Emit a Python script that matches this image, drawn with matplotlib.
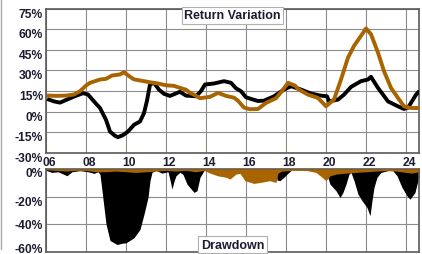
import matplotlib
matplotlib.use("Agg")
import matplotlib.pyplot as plt
from matplotlib.transforms import ScaledTranslation
from matplotlib.lines import Line2D

# ---- data ----
fund_ret_x = [2006.15, 2006.4, 2006.7, 2007.0, 2007.4, 2007.85, 2008.1, 2008.4, 2008.7, 2009.0,
              2009.2, 2009.45, 2009.6, 2009.85, 2010.1, 2010.4, 2010.7, 2010.9, 2011.05, 2011.2,
              2011.4, 2011.65, 2011.9, 2012.2, 2012.7, 2013.0, 2013.5, 2013.75, 2013.95, 2014.4,
              2014.9, 2015.25, 2015.5, 2015.75, 2016.0, 2016.25, 2016.6, 2016.9, 2017.4, 2017.9,
              2018.25, 2018.75, 2019.25, 2019.7, 2020.05, 2020.15, 2020.6, 2020.9, 2021.25, 2021.75,
              2022.1, 2022.25, 2022.35, 2022.6, 2023.1, 2023.6, 2023.9, 2024.1, 2024.25, 2024.5, 2024.6]
fund_ret = [8.8, 7.5, 6.6, 8.5, 11.0, 13.5, 12.5, 7.5, 2.7, -5.9,
            -14.4, -17.5, -18.5, -17.0, -14.4, -9.5, -7.1, -1.0, 8.0, 19.8,
            21.0, 16.0, 13.0, 11.5, 14.5, 11.7, 11.2, 15.0, 19.8, 20.5,
            22.2, 21.0, 17.0, 14.9, 10.5, 9.3, 7.8, 8.0, 11.2, 16.1,
            18.5, 16.1, 13.2, 11.8, 11.2, 7.5, 8.8, 12.4, 18.0, 22.2,
            23.4, 25.4, 23.0, 17.3, 7.5, 3.9, 2.0, 3.0, 6.4, 12.4, 14.0]

bench_ret_x = [2006.15, 2006.5, 2007.0, 2007.4, 2007.7, 2008.0, 2008.2, 2008.7, 2009.0, 2009.3,
               2009.7, 2009.9, 2010.2, 2010.4, 2010.7, 2011.2, 2011.6, 2012.0, 2012.4, 2012.7,
               2013.0, 2013.2, 2013.4, 2013.7, 2014.2, 2014.6, 2015.0, 2015.4, 2015.6, 2015.9,
               2016.2, 2016.6, 2017.0, 2017.5, 2017.8, 2018.1, 2018.45, 2018.6, 2019.1, 2019.6,
               2020.0, 2020.4, 2020.75, 2021.1, 2021.4, 2021.75, 2022.0, 2022.25, 2022.6, 2022.9,
               2023.25, 2023.6, 2023.9, 2024.25, 2024.6]
bench_ret = [11.7, 11.5, 11.7, 12.5, 14.9, 19.0, 21.0, 23.4, 23.9, 26.3,
             27.1, 28.7, 25.4, 23.5, 22.7, 21.4, 20.5, 19.2, 18.8, 17.3,
             16.0, 13.7, 12.4, 9.8, 10.8, 13.7, 11.5, 10.2, 8.0, 3.0,
             1.8, 2.0, 6.4, 9.8, 15.0, 21.0, 19.0, 16.5, 12.4, 10.0,
             4.0, 8.8, 23.4, 39.3, 47.8, 55.1, 60.5, 56.3, 42.9, 29.5,
             17.3, 10.0, 3.9, 2.7, 2.7]

fund_dd_x = [2006.0, 2006.3, 2006.6, 2007.05, 2007.3, 2007.7, 2008.1, 2008.4, 2008.6, 2008.7,
             2008.8, 2009.0, 2009.2, 2009.55, 2009.8, 2010.0, 2010.4, 2010.7, 2010.9, 2011.1,
             2011.2, 2011.3, 2011.5, 2011.8, 2012.1, 2012.2, 2012.3, 2012.4, 2012.5, 2012.7,
             2012.85, 2013.05, 2013.4, 2013.55, 2013.7, 2013.9, 2014.1, 2015.0, 2016.0, 2017.0,
             2017.5, 2017.55, 2017.7, 2017.9, 2018.1, 2018.3, 2019.8, 2020.0, 2020.2, 2020.5,
             2020.7, 2020.85, 2021.0, 2021.15, 2021.25, 2021.4, 2021.6, 2021.8, 2022.05, 2022.2,
             2022.3, 2022.4, 2022.55, 2022.75, 2023.1, 2023.3, 2023.55, 2023.8, 2024.05, 2024.2,
             2024.45, 2024.55, 2024.65]
fund_dd = [-1.0, -2.5, -2.0, -4.9, -2.0, -1.2, -2.0, -3.2, -2.0, -4.0,
           -15.8, -40.0, -52.0, -54.9, -54.0, -53.7, -50.0, -43.9, -32.9, -20.7,
           -8.5, -2.4, -1.0, -3.0, -2.0, -8.0, -14.6, -9.0, -4.9, -2.4,
           -4.0, -11.0, -17.0, -15.8, -6.0, -1.2, -0.5, -2.0, -3.0, -2.5,
           -2.0, -8.0, -8.5, -6.0, -3.0, -0.5, -1.0, -2.0, -11.0, -15.8,
           -20.7, -17.0, -11.0, -3.7, -2.5, -8.5, -18.3, -23.0, -28.0, -34.0,
           -23.0, -13.4, -6.0, -2.5, -1.2, -0.5, -4.9, -13.4, -19.5, -22.0,
           -17.0, -11.0, -6.0]

bench_dd_x = [2006.0, 2006.5, 2007.0, 2007.5, 2008.0, 2008.5, 2009.0, 2009.5, 2010.0, 2010.5,
              2011.0, 2011.5, 2012.0, 2012.5, 2013.0, 2013.5, 2013.9, 2014.2, 2014.6, 2015.0,
              2015.2, 2015.5, 2015.7, 2015.95, 2016.4, 2016.7, 2017.2, 2017.5, 2017.6, 2017.8,
              2018.3, 2019.0, 2019.5, 2019.8, 2020.0, 2020.2, 2020.5, 2021.0, 2021.5, 2022.0,
              2022.5, 2023.0, 2023.5, 2024.0, 2024.3, 2024.65]
bench_dd = [-0.5, -1.0, -1.5, -1.0, -1.0, -2.0, -2.0, -1.5, -2.0, -2.5,
            -2.0, -1.5, -1.0, -1.5, -1.0, -2.0, -1.0, -3.0, -5.0, -6.0,
            -7.3, -3.7, -3.2, -8.5, -10.5, -9.8, -8.5, -9.8, -3.0, -1.5,
            -1.0, -1.0, -2.5, -6.0, -8.5, -5.0, -3.7, -3.0, -2.5, -2.0,
            -1.5, -1.2, -1.5, -2.5, -3.0, -2.0]

top_ticks = [-30, -15, 0, 15, 30, 45, 60, 75]
bottom_ticks = [-60, -40, -20, 0]
year_ticks = [2006, 2008, 2010, 2012, 2014, 2016, 2018, 2020, 2022, 2024]
year_labels = ['06', '08', '10', '12', '14', '16', '18', '20', '22', '24']

# ---- styling ----
BROWN = '#A86400'
TXT = '#1c1c30'
GRID = '#8c8c8c'
SPINE = '#5a5a5a'
plt.rcParams['font.family'] = ['Liberation Sans', 'DejaVu Sans']
plt.rcParams['font.weight'] = 'bold'

W, H, DPI = 422, 255, 100
fig = plt.figure(figsize=(W / DPI, H / DPI), dpi=DPI)
fig.patch.set_facecolor('white')

def fx(px):
    return px / W

def fy(py):
    return 1 - py / H

L, R = 46, 419
ax1 = fig.add_axes([fx(L), fy(154), fx(R - L), fy(9.5) - fy(154)])
ax2 = fig.add_axes([fx(L), fy(252.5), fx(R - L), fy(170) - fy(252.5)])

for ax in (ax1, ax2):
    ax.set_xlim(2006.0, 2024.65)
    ax.set_xticks(year_ticks)
    ax.grid(True, color=GRID, lw=0.8)
    ax.set_axisbelow(True)
    for s in ax.spines.values():
        s.set_color(SPINE)
        s.set_linewidth(1.2)
    ax.tick_params(length=0, labelsize=8.7, labelcolor=TXT, pad=2)

# top: return variation
ax1.set_ylim(-30, 75)
ax1.set_yticks(top_ticks)
ax1.set_yticklabels([f'{t}%' for t in top_ticks], fontweight='bold')
ax1.set_xticklabels(year_labels, fontweight='bold')
ax1.plot(fund_ret_x, fund_ret, color='black', lw=2.8, solid_joinstyle='round', zorder=3)
ax1.plot(bench_ret_x, bench_ret, color=BROWN, lw=2.8, solid_joinstyle='round', zorder=4)
ax1.text(0.5, 0.955, 'Return Variation', transform=ax1.transAxes, ha='center', va='center',
         fontsize=9, fontweight='bold', color=TXT, zorder=6,
         bbox=dict(boxstyle='square,pad=0.2', facecolor='white', edgecolor='#b0b0b0', lw=0.8))

# bottom: drawdown
ax2.set_ylim(-60, 0)
ax2.set_yticks(bottom_ticks)
ax2.set_yticklabels([f'{t}%' for t in bottom_ticks], fontweight='bold')
ax2.set_xticklabels([])
ax2.fill_between(fund_dd_x, fund_dd, 0, color='black', lw=0, zorder=2)
ax2.fill_between(bench_dd_x, bench_dd, 0, color=BROWN, lw=0, zorder=3)
ax2.text(0.5, 0.079, 'Drawdown', transform=ax2.transAxes, ha='center', va='center',
         fontsize=9, fontweight='bold', color=TXT, zorder=6, clip_on=False,
         bbox=dict(boxstyle='square,pad=0.2', facecolor='white', edgecolor='#b0b0b0', lw=0.8))

# label offsets as in the reference
down = ScaledTranslation(0, -3.5 / DPI, fig.dpi_scale_trans)
for lab in ax1.get_yticklabels():
    lab.set_transform(lab.get_transform() + down)
for lab, off in zip(ax2.get_yticklabels(), [-4, 0, 4, 3]):
    lab.set_transform(lab.get_transform() + ScaledTranslation(0, -off / DPI, fig.dpi_scale_trans))
right = ScaledTranslation(3 / DPI, 0, fig.dpi_scale_trans)
for lab in ax1.get_xticklabels():
    lab.set_transform(lab.get_transform() + right)

fig.add_artist(Line2D([0.003, 0.003], [0.02, 1.0], color='#707070', lw=1.0, alpha=0.6))

fig.savefig('out.png', dpi=DPI, facecolor='white')
